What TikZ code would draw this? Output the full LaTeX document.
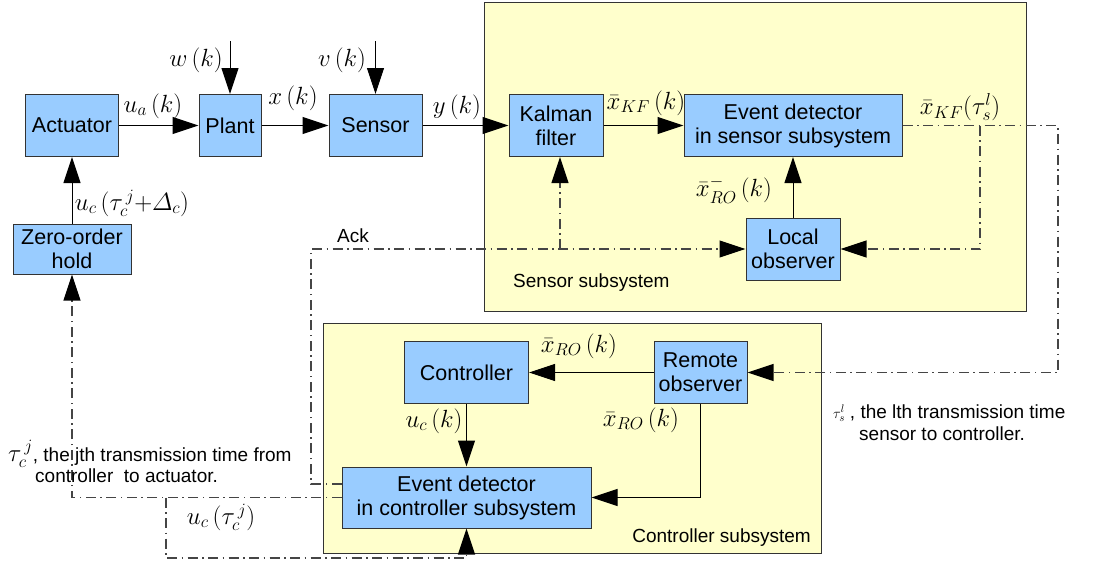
\documentclass[tikz,border=0pt]{standalone}
\usepackage{amsmath}
\usepackage{fontspec}
\setmainfont{Liberation Sans}
\usetikzlibrary{arrows.meta,calc}

\definecolor{boxblue}{HTML}{99CCFF}
\definecolor{subyellow}{HTML}{FFFFCC}
\definecolor{edgegray}{HTML}{333333}
\definecolor{dashgray}{HTML}{454545}

\tikzset{
  blk/.style={draw=edgegray, fill=boxblue, line width=1pt, inner sep=0pt,
    align=center, font=\fontsize{21.5}{24}\selectfont},
  subsys/.style={draw=edgegray, fill=subyellow, line width=1pt, inner sep=0pt},
  arr/.style={line width=1pt, -{Triangle[length=26pt,width=17pt]}},
  sig/.style={line width=1.1pt, draw=dashgray,
    dash pattern=on 10pt off 4.5pt on 1.5pt off 4.5pt},
  sigarr/.style={sig, -{Triangle[length=26pt,width=17pt,color=black]}},
  mlab/.style={inner sep=0pt, font=\fontsize{25}{27}\selectfont},
  tlab/.style={inner sep=0pt, font=\fontsize{19}{22}\selectfont},
}
% slightly opened parentheses for signal arguments
\newcommand{\sigarg}[1]{\,(#1)}

\begin{document}
\begin{tikzpicture}[x=1pt,y=-1pt]
\useasboundingbox[fill=white] (0,0) rectangle (1093,565);

% subsystem frames
\node[subsys, anchor=north west, minimum width=542pt, minimum height=309pt] (ssub) at (484,2) {};
\node[subsys, anchor=north west, minimum width=498pt, minimum height=230pt] (csub) at (323,323) {};
\node[tlab, anchor=base west] (ssubl) at (513,287) {Sensor subsystem};
\node[tlab, anchor=base east] (csubl) at (811,542) {Controller subsystem};

% blocks
\node[blk, minimum width=93pt, minimum height=62pt] (act) at (72,125.5) {Actuator};
\node[blk, minimum width=62pt, minimum height=62pt] (plant) at (230,125.5) {Plant};
\node[blk, minimum width=93pt, minimum height=62pt] (sens) at (375.5,125.5) {Sensor};
\node[blk, minimum width=94pt, minimum height=62pt] (kf) at (556,125.5) {Kalman\\filter};
\node[blk, minimum width=218pt, minimum height=62pt] (eds) at (793,125.5) {Event detector\\in sensor subsystem};
\node[blk, minimum width=94pt, minimum height=62pt] (lo) at (793,249) {Local\\observer};
\node[blk, minimum width=118pt, minimum height=50pt] (zoh) at (72,249) {Zero-order\\hold};
\node[blk, minimum width=124pt, minimum height=62pt] (ctrl) at (466.5,372.5) {Controller};
\node[blk, minimum width=93pt, minimum height=62pt] (ro) at (700.5,372.5) {Remote\\observer};
\node[blk, minimum width=249pt, minimum height=61pt] (edc) at (466.5,497.5) {Event detector\\in controller subsystem};

% bend points of the network links
\coordinate (wtop) at (230,41);
\coordinate (vtop) at (375.5,41);
\coordinate (sr) at (1058,372.5);
\coordinate (br) at (980,125.5);
\coordinate (ackc) at (311,249);
\coordinate (kb) at (560,249);
\coordinate (lp) at (166,497.5);
\coordinate (lpb) at (466.5,558);

% solid signal paths
\draw[arr] (act) -- (plant);
\draw[arr] (plant) -- (sens);
\draw[arr] (sens) -- (kf);
\draw[arr] (kf) -- (eds);
\draw[arr] (wtop) -- (plant);
\draw[arr] (vtop) -- (sens);
\draw[arr] (zoh) -- (act);
\draw[arr] (lo) -- (eds);
\draw[arr] (ro) -- (ctrl);
\draw[arr] (ctrl) -- (edc);
\draw[arr] (ro.south) |- (edc.east);

% network (dash-dot) paths
\draw[sigarr] (eds.east) -| (sr) -- (ro.east);
\draw[sigarr] (br) |- (lo.east);
\draw[sigarr] ([yshift=13.5pt]edc.west) -| (ackc) -- (lo.west);
\draw[sigarr] (kb) -- (kb |- kf.south);
\draw[sigarr] (edc.west) -| (zoh.south);
\draw[sigarr] (lp) |- (lpb) -- (edc.south);

% signal labels
\node[mlab] (lua) at (153,106) {$u_a\sigarg{k}$};
\node[mlab] (lw) at (196,60) {$w\sigarg{k}$};
\node[mlab] (lv) at (342,60) {$v\sigarg{k}$};
\node[mlab] (lx) at (293,98) {$x\sigarg{k}$};
\node[mlab] (ly) at (457,107) {$y\sigarg{k}$};
\node[mlab] (lkf) at (646,103) {$\bar{x}_{KF}\sigarg{k}$};
\node[mlab] (lkft) at (960,107) {$\bar{x}_{KF}(\tau_s^{l})$};
\node[mlab] (lrom) at (734,190) {$\bar{x}^{-}_{RO}\sigarg{k}$};
\node[mlab] (luc) at (132,203) {$u_c\sigarg{\tau_c^{\,j}{+}\varDelta_c}$};
\node[tlab] (lack) at (353,236) {Ack};
\node[mlab] (lro1) at (579,346) {$\bar{x}_{RO}\sigarg{k}$};
\node[mlab] (lro2) at (641,420) {$\bar{x}_{RO}\sigarg{k}$};
\node[mlab] (luck) at (434,421) {$u_c\sigarg{k}$};
\node[mlab] (luct) at (221,517) {$u_c\sigarg{\tau_c^{\,j}}$};

% transmission-time notes
\node[tlab, anchor=base west] (notec1) at (8,461)
  {{\fontsize{23}{25}\selectfont$\tau_c^{\,j}$}, the jth transmission time from};
\node[tlab, anchor=base west] (notec2) at (35,482) {controller\ \ to actuator.};
\node[tlab, anchor=base west] (notes1) at (833,418)
  {{\fontsize{15}{17}\selectfont$\tau_s^l$}\hspace{5pt}, the lth transmission time};
\node[tlab, anchor=base west] (notes2) at (859,440) {sensor to controller.};
\end{tikzpicture}
\end{document}
